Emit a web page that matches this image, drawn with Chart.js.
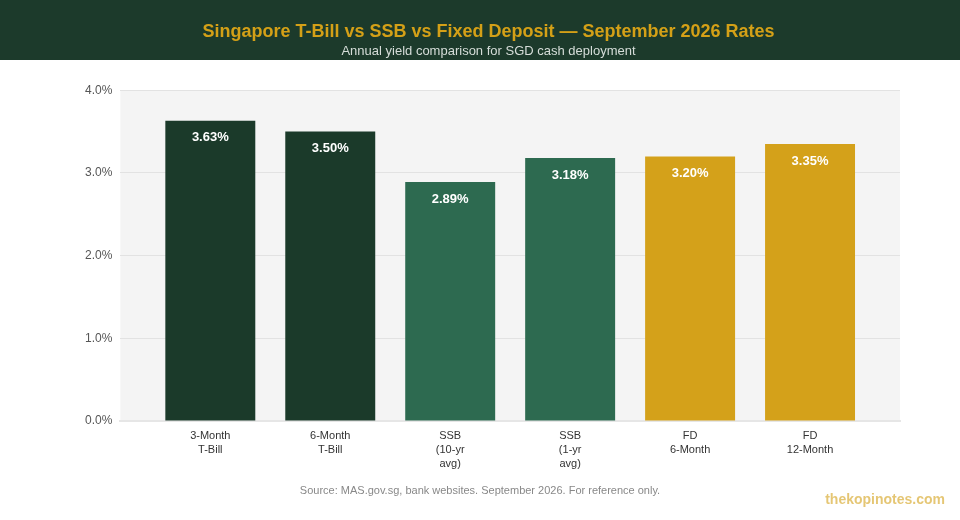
<!DOCTYPE html>
<html>
<head>
<meta charset="utf-8">
<script src="https://cdn.jsdelivr.net/npm/chart.js@4.4.1/dist/chart.umd.min.js"></script>
<style>
  html, body { margin: 0; padding: 0; background: #ffffff; }
  #wrap { width: 960px; height: 520px; position: relative; }
</style>
</head>
<body>
<div id="wrap"><canvas id="myChart" width="960" height="520"></canvas></div>
<script>
const categories = [
    ['3-Month', 'T-Bill'],
    ['6-Month', 'T-Bill'],
    ['SSB', '(10-yr', 'avg)'],
    ['SSB', '(1-yr', 'avg)'],
    ['FD', '6-Month'],
    ['FD', '12-Month']
];
const yields = [3.63, 3.50, 2.89, 3.18, 3.20, 3.35];
const barColors = ['#1b3a2a', '#1b3a2a', '#2d6a50', '#2d6a50', '#d4a11a', '#d4a11a'];
const yTicks = [0, 1, 2, 3, 4];

const FONT = "'Liberation Sans', Arial, Helvetica, sans-serif";

// header band + grey plot background
const backdrop = {
    id: 'backdrop',
    beforeDraw(chart) {
        const ctx = chart.ctx;
        const a = chart.chartArea;
        ctx.save();
        ctx.fillStyle = '#1c3a2b';
        ctx.fillRect(0, 0, chart.width, 60);
        ctx.fillStyle = '#f4f4f4';
        ctx.fillRect(a.left, a.top, a.right - a.left, a.bottom - a.top);
        ctx.restore();
    }
};

// value labels inside the bars, source line and watermark
const labels = {
    id: 'labels',
    afterDatasetsDraw(chart) {
        const ctx = chart.ctx;
        ctx.save();
        ctx.font = 'bold 13px ' + FONT;
        ctx.fillStyle = '#ffffff';
        ctx.textAlign = 'center';
        ctx.textBaseline = 'middle';
        chart.getDatasetMeta(0).data.forEach((bar, i) => {
            ctx.fillText(yields[i].toFixed(2) + '%', bar.x, bar.y + 17);
        });
        ctx.restore();
    },
    afterDraw(chart) {
        const ctx = chart.ctx;
        ctx.save();
        ctx.textBaseline = 'middle';
        ctx.font = '11px ' + FONT;
        ctx.fillStyle = '#888888';
        ctx.textAlign = 'center';
        ctx.fillText('Source: MAS.gov.sg, bank websites. September 2026. For reference only.', 480, 491);
        ctx.font = 'bold 14px ' + FONT;
        ctx.fillStyle = 'rgba(212, 160, 23, 0.6)';
        ctx.textAlign = 'right';
        ctx.fillText('thekopinotes.com', 945, 500);
        ctx.restore();
    }
};

const data = {
    datasets: [{
        label: 'Annual yield',
        data: yields.map((v, i) => ({ x: i, y: v })),
        backgroundColor: barColors,
        borderWidth: 0,
        categoryPercentage: 1,
        barPercentage: 0.75
    }]
};

const config = {
    type: 'bar',
    data: data,
    options: {
        responsive: false,
        animation: false,
        layout: { padding: { left: 77, right: 60, top: 0, bottom: 49 } },
        plugins: {
            legend: { display: false },
            tooltip: { enabled: false },
            title: {
                display: true,
                text: 'Singapore T-Bill vs SSB vs Fixed Deposit \u2014 September 2026 Rates',
                color: '#d4a017',
                font: { family: FONT, size: 18, weight: 'bold' },
                padding: { top: 21, bottom: 1 }
            },
            subtitle: {
                display: true,
                text: 'Annual yield comparison for SGD cash deployment',
                color: '#d6ddd9',
                font: { family: FONT, size: 13 },
                padding: { top: 0, bottom: 31 }
            }
        },
        scales: {
            x: {
                type: 'linear',
                offset: false,
                min: -0.75,
                max: categories.length - 0.25,
                grid: { display: false },
                border: { color: '#e6e6e6', width: 2 },
                afterBuildTicks(scale) {
                    scale.ticks = categories.map((c, i) => ({ value: i }));
                },
                ticks: {
                    color: '#333333',
                    font: { family: FONT, size: 11, lineHeight: 1.27 },
                    padding: 0,
                    maxRotation: 0,
                    callback: v => categories[v]
                }
            },
            y: {
                min: yTicks[0],
                max: yTicks[yTicks.length - 1],
                grid: { color: '#e2e2e2', drawTicks: false },
                border: { display: false },
                afterBuildTicks(scale) {
                    scale.ticks = yTicks.map(v => ({ value: v }));
                },
                ticks: {
                    color: '#555555',
                    font: { family: FONT, size: 12 },
                    padding: 8,
                    callback: v => v.toFixed(1) + '%'
                }
            }
        }
    },
    plugins: [backdrop, labels]
};

var myChart = new Chart(document.getElementById('myChart'), config);
</script>
</body>
</html>
